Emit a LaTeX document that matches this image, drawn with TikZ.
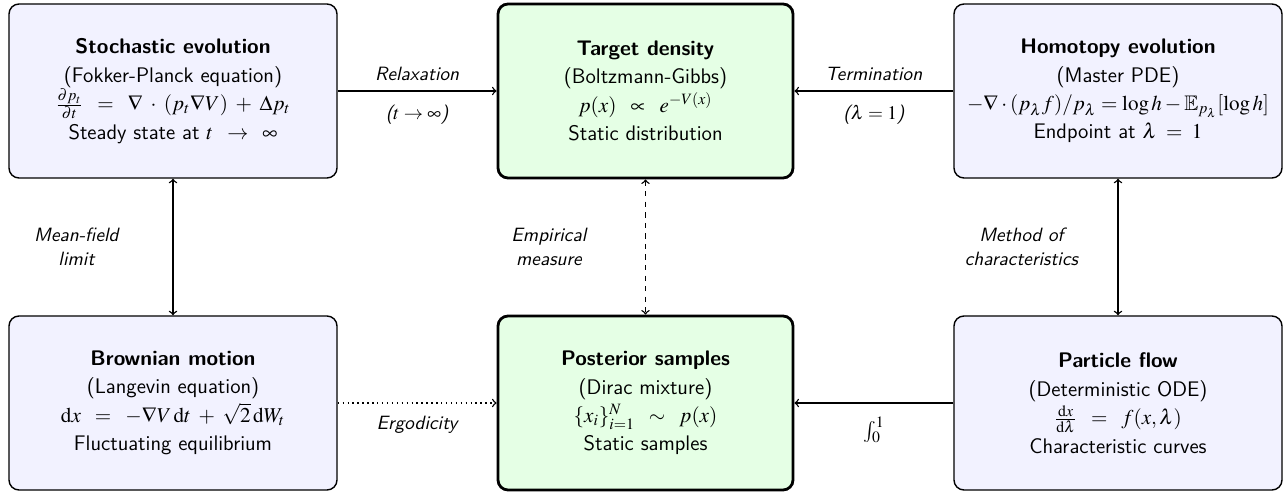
\documentclass[tikz,border=0pt]{standalone}
\usepackage{mathptmx}
\usepackage{amssymb}

\begin{document}
\begin{tikzpicture}[every node/.style={font=\fontsize{12}{16.2}\selectfont\sffamily},
	box/.style={draw,thick,rounded corners=0.2cm,fill=blue!5,align=center,minimum width=6.56cm,minimum height=3.48cm},
	core/.style={box,line width=1.6pt,fill=green!10,minimum width=5.9cm},
	flow/.style={thick,->},
	twoway/.style={thick,<->},
	note/.style={font=\fontsize{10.95}{13.6}\selectfont\sffamily\itshape,align=center},
	side/.style={note,left=0.3cm,text width=3cm}]
	\useasboundingbox (0,0) rectangle (25.74,-9.88);

	\node[box] at (3.46,-1.82) (stoch) {\textbf{Stochastic evolution}\\(Fokker-Planck equation)\\$\frac{\partial p_t}{\partial t} \;\;=\;\; \nabla\;\cdot\;(p_t\nabla V) \;+\; \Delta p_t$\\Steady state at $t \;\;\to\;\; \infty$};
	\node[core] at (12.91,-1.82) (target) {\textbf{Target density}\\(Boltzmann-Gibbs)\\$p(x) \;\;\propto\;\; e^{-V(x)}$\\Static distribution};
	\node[box] at (22.36,-1.82) (homot) {\textbf{Homotopy evolution}\\(Master PDE)\\$-\nabla\cdot(p_\lambda f)/p_\lambda = \log h - \mathbb{E}_{p_\lambda}[\log h]$\\Endpoint at $\lambda \;=\; 1$};
	\node[box] at (3.46,-8.06) (brown) {\textbf{Brownian motion}\\(Langevin equation)\\$\mathrm{d}x \;\;=\;\; -\nabla V\,\mathrm{d}t \;+\; \sqrt{2}\,\mathrm{d}W_t$\\Fluctuating equilibrium};
	\node[core] at (12.91,-8.06) (poster) {\textbf{Posterior samples}\\(Dirac mixture)\\$\{x_i\}_{i=1}^N \;\;\sim\;\; p(x)$\\Static samples};
	\node[box] at (22.36,-8.06) (partic) {\textbf{Particle flow}\\(Deterministic ODE)\\$\frac{\mathrm{d}x}{\mathrm{d}\lambda} \;\;=\;\; f(x,\lambda)$\\Characteristic curves};

	% horizontal links
	\draw[flow]		(stoch) -- node[note,above=2pt] {Relaxation} node[note,below=4pt] {($t \to \infty$)} (target);
	\draw[flow]		(homot) -- node[note,above=2pt] {Termination} node[note,below=4pt] {($\lambda = 1$)} (target);
	\draw[flow,dotted]	(brown) -- node[note,below=4pt] {Ergodicity} (poster);
	\draw[flow]		(partic) -- node[below=4pt] {$\int_0^1$} (poster);

	% vertical links
	\draw[twoway]		(stoch) -- node[side] {Mean-field\\limit} (brown);
	\draw[twoway,dashed]	(target) -- node[side] {Empirical\\measure} (poster);
	\draw[twoway]		(homot) -- node[side] {Method of\\characteristics} (partic);
\end{tikzpicture}
\end{document}
